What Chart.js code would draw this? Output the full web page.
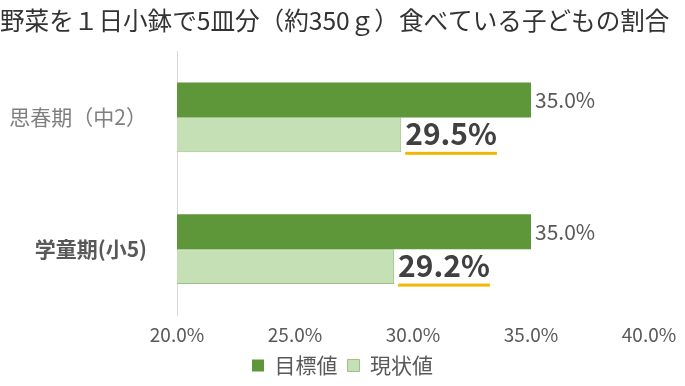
<!DOCTYPE html>
<html>
<head>
<meta charset="utf-8">
<script src="https://cdn.jsdelivr.net/npm/chart.js@4"></script>
<style>
  html, body { margin: 0; padding: 0; background: #fff; }
  #wrap { width: 685px; height: 386px; }
</style>
</head>
<body>
<div id="wrap"><canvas id="chart"></canvas></div>
<script>
// データ
const categories = ['思春期（中2）', '学童期(小5)'];
const targetValues = [35.0, 35.0];   // 目標値
const currentValues = [29.5, 29.2];  // 現状値
const seriesNames = ['目標値', '現状値'];
const xTicks = [20, 25, 30, 35, 40];

const FONT = '"Noto Sans CJK JP", "Noto Sans", sans-serif';

// 棒の右にラベルを描く
const valueLabels = {
  id: 'valueLabels',
  afterDatasetsDraw(chart) {
    const ctx = chart.ctx;
    ctx.save();
    chart.data.datasets.forEach((ds, di) => {
      const meta = chart.getDatasetMeta(di);
      meta.data.forEach((bar, i) => {
        const txt = ds.data[i].toFixed(1) + '%';
        ctx.textBaseline = 'middle';
        ctx.textAlign = 'left';
        if (di === 0) {
          ctx.font = '21px ' + FONT;
          ctx.fillStyle = '#595959';
          ctx.fillText(txt, bar.x + 4, bar.y);
        } else {
          ctx.font = 'bold 30px ' + FONT;
          ctx.fillStyle = '#404040';
          const x = bar.x + 4;
          ctx.fillText(txt, x, bar.y - 1);
          // 黄色の下線
          const w = ctx.measureText(txt).width;
          ctx.fillStyle = '#F2B700';
          ctx.fillRect(x, bar.y + 17, w, 3);
        }
      });
    });
    ctx.restore();
  }
};

new Chart(document.getElementById('chart'), {
  type: 'bar',
  data: {
    labels: categories,
    datasets: [
      {
        label: seriesNames[0],
        data: targetValues,
        backgroundColor: '#5E963A',
        borderColor: '#5E963A',
        borderWidth: 0,
        categoryPercentage: 0.53,
        barPercentage: 1.0
      },
      {
        label: seriesNames[1],
        data: currentValues,
        backgroundColor: '#C5E0B4',
        borderColor: '#9DBF88',
        borderWidth: 1,
        categoryPercentage: 0.53,
        barPercentage: 1.0
      }
    ]
  },
  options: {
    indexAxis: 'y',
    responsive: true,
    maintainAspectRatio: false,
    animation: false,
    layout: { padding: { left: 0, right: 0, top: 0, bottom: 0 } },
    scales: {
      x: {
        min: 20,
        max: 40,
        afterBuildTicks(scale) {
          scale.ticks = xTicks.map(v => ({ value: v }));
        },
        afterFit(scale) { scale.height = 30; },
        grid: {
          display: true,
          drawTicks: false,
          color: ctx => (ctx.tick && ctx.tick.value === 20 ? '#D9D9D9' : 'rgba(0,0,0,0)')
        },
        border: { display: false },
        ticks: {
          padding: 8,
          color: '#595959',
          font: { family: FONT, size: 19 },
          callback: v => v.toFixed(1) + '%'
        }
      },
      y: {
        afterFit(scale) { scale.width = 177; },
        grid: { display: false, drawTicks: false },
        border: { display: true, color: '#D9D9D9' },
        ticks: {
          padding: 30,
          color: ctx => (ctx.index === 0 ? '#7F7F7F' : '#595959'),
          font: ctx => ({ family: FONT, size: 21, weight: ctx.index === 0 ? 'normal' : 'bold' })
        }
      },
      // 右側の余白用（表示なし）
      yRight: {
        type: 'category',
        position: 'right',
        afterFit(scale) { scale.width = 36; },
        grid: { display: false, drawTicks: false },
        border: { display: false },
        ticks: { display: false }
      }
    },
    plugins: {
      title: {
        display: true,
        text: '野菜を１日小鉢で5皿分（約350ｇ）食べている子どもの割合',
        align: 'start',
        color: '#333333',
        font: { family: FONT, size: 24.6, weight: 'normal' },
        padding: { top: 6, bottom: 16 }
      },
      legend: {
        position: 'bottom',
        labels: {
          boxWidth: 12,
          boxHeight: 12,
          padding: 10,
          color: '#595959',
          font: { family: FONT, size: 21 }
        }
      },
      tooltip: { enabled: false }
    }
  },
  plugins: [valueLabels]
});
</script>
</body>
</html>
